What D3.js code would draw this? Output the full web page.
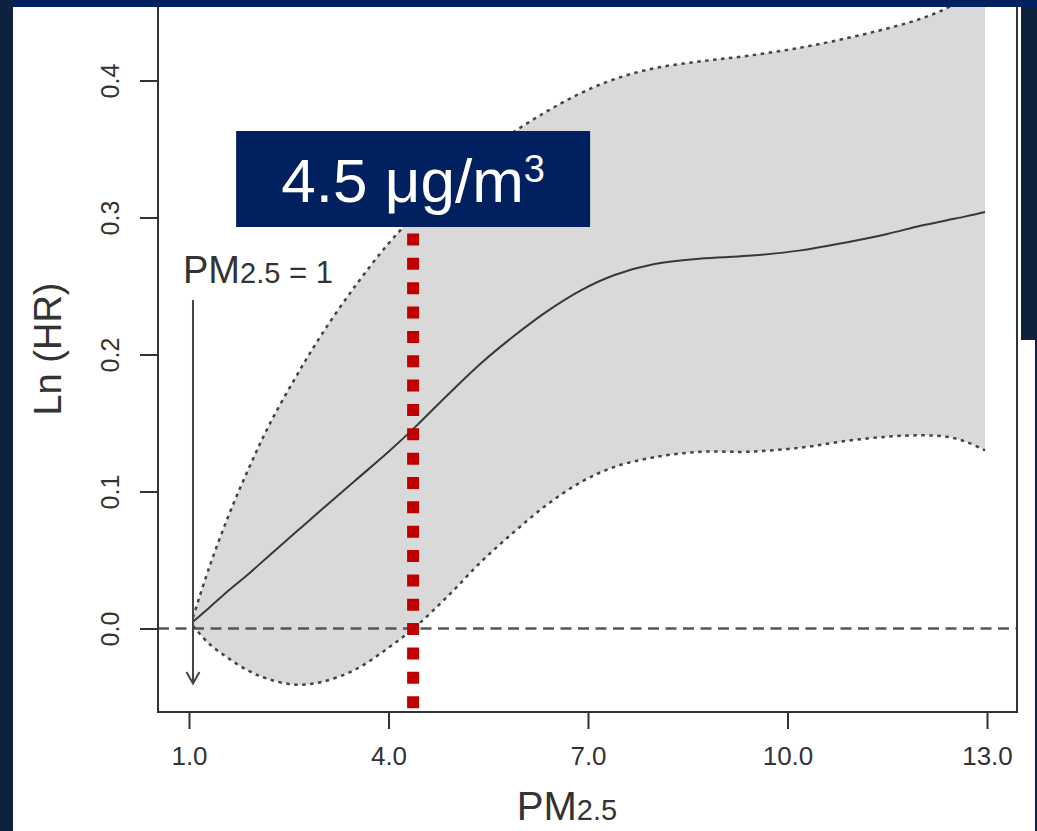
<!DOCTYPE html>
<html>
<head>
<meta charset="utf-8">
<script src="https://cdn.jsdelivr.net/npm/d3@7"></script>
<style>
  html, body { margin: 0; padding: 0; background: #0e213e; }
  svg { display: block; font-family: "Liberation Sans", Arial, sans-serif; }
</style>
</head>
<body>
<svg id="chart" width="1037" height="831"></svg>
<script>
// ---- data ----
const pm    = [1.06, 1.3, 1.6, 1.9, 2.2, 2.6, 3.0, 3.5, 4.0, 4.4, 4.9, 5.4, 5.9, 6.4, 6.9, 7.4, 8.0, 8.7, 9.4, 10.2, 10.9, 11.5, 12.0, 12.4, 12.7, 12.97];
const fit   = [0.005, 0.015, 0.028, 0.040, 0.053, 0.070, 0.087, 0.108, 0.129, 0.147, 0.171, 0.194, 0.214, 0.232, 0.247, 0.258, 0.266, 0.270, 0.272, 0.276, 0.282, 0.288, 0.294, 0.298, 0.301, 0.304];
const upper = [0.008, 0.044, 0.083, 0.117, 0.148, 0.183, 0.215, 0.250, 0.281, 0.302, 0.326, 0.346, 0.363, 0.378, 0.391, 0.401, 0.409, 0.414, 0.418, 0.424, 0.431, 0.438, 0.445, 0.453, 0.462, 0.472];
const lower = [0.002, -0.011, -0.022, -0.031, -0.037, -0.041, -0.039, -0.030, -0.014, 0.001, 0.024, 0.049, 0.071, 0.091, 0.107, 0.118, 0.125, 0.129, 0.129, 0.132, 0.137, 0.140, 0.141, 0.140, 0.136, 0.130];
const xTicks = [1, 4, 7, 10, 13];
const xTickLabels = ["1.0", "4.0", "7.0", "10.0", "13.0"];
const yTicks = [0, 0.1, 0.2, 0.3, 0.4];
const yTickLabels = ["0.0", "0.1", "0.2", "0.3", "0.4"];
const refPM = 1.06;          // PM2.5 = 1 reference arrow
const thresholdPM = 4.37;    // red dotted marker
const thresholdText = "4.5 μg/m";
const thresholdSup = "3";

// ---- layout ----
const svg = d3.select("#chart");
const box = { left: 158, right: 1017, bottom: 712, top: -40 };
const x = d3.scaleLinear().domain([1, 13]).range([189, 987]);
const y = d3.scaleLinear().domain([0, 0.4]).range([628.5, 80.5]);
const textCol = "#333";
const curve = d3.curveCatmullRom.alpha(0.5);

// background frame
svg.append("rect").attr("x", 0).attr("y", 0).attr("width", 1037).attr("height", 831).attr("fill", "#0e213e");
svg.append("path").attr("d", "M13,7 L1021,7 L1021,340 L1035,340 L1035,831 L13,831 Z").attr("fill", "#ffffff");

// clip
svg.append("defs").append("clipPath").attr("id", "plotclip")
  .append("rect").attr("x", box.left).attr("y", box.top)
  .attr("width", box.right - box.left).attr("height", box.bottom - box.top);

const data = pm.map((p, i) => ({ p, f: fit[i], lo: lower[i], hi: upper[i] }));
const plot = svg.append("g").attr("clip-path", "url(#plotclip)");

// confidence band
plot.append("path").datum(data)
  .attr("d", d3.area().x(d => x(d.p)).y0(d => y(d.lo)).y1(d => y(d.hi)).curve(curve))
  .attr("fill", "#d9d9d9");

// zero reference line
plot.append("line").attr("x1", box.left).attr("x2", box.right).attr("y1", y(0)).attr("y2", y(0))
  .attr("stroke", "#555").attr("stroke-width", 2.5).attr("stroke-dasharray", "11 6.5");

// band borders
["hi", "lo"].forEach(k => {
  plot.append("path").datum(data)
    .attr("d", d3.line().x(d => x(d.p)).y(d => y(d[k])).curve(curve))
    .attr("fill", "none").attr("stroke", "#444").attr("stroke-width", 2.5)
    .attr("stroke-dasharray", "3.5 4.5");
});

// fitted line
plot.append("path").datum(data)
  .attr("d", d3.line().x(d => x(d.p)).y(d => y(d.f)).curve(curve))
  .attr("fill", "none").attr("stroke", "#383838").attr("stroke-width", 2);

// box
svg.append("path")
  .attr("d", `M${box.left},${box.top} L${box.left},${box.bottom} L${box.right},${box.bottom} L${box.right},${box.top}`)
  .attr("fill", "none").attr("stroke", "#333").attr("stroke-width", 2);

// y axis
const gy = svg.append("g").attr("transform", `translate(${box.left},0)`)
  .call(d3.axisLeft(y).tickValues(yTicks).tickSize(18).tickFormat((d, i) => yTickLabels[i]));
gy.select(".domain").remove();
gy.selectAll(".tick line").attr("stroke", "#333").attr("stroke-width", 2);
gy.selectAll(".tick text")
  .attr("x", null).attr("dy", null)
  .attr("transform", "translate(-39,0) rotate(-90)")
  .attr("text-anchor", "middle")
  .attr("fill", textCol).style("font-size", "25px")
  .style("font-family", "'Liberation Sans', Arial, sans-serif");

// x axis
const gx = svg.append("g").attr("transform", `translate(0,${box.bottom})`)
  .call(d3.axisBottom(x).tickValues(xTicks).tickSize(17).tickFormat((d, i) => xTickLabels[i]));
gx.select(".domain").remove();
gx.selectAll(".tick line").attr("stroke", "#333").attr("stroke-width", 2);
gx.selectAll(".tick text")
  .attr("y", 53).attr("dy", null)
  .attr("fill", textCol).style("font-size", "26px")
  .style("font-family", "'Liberation Sans', Arial, sans-serif");

// axis titles
svg.append("text").attr("transform", "translate(61,349) rotate(-90)")
  .attr("text-anchor", "middle").attr("fill", textCol).style("font-size", "38px").text("Ln (HR)");
const xt = svg.append("text").attr("x", 567).attr("y", 820).attr("text-anchor", "middle").attr("fill", textCol);
xt.append("tspan").style("font-size", "40px").text("PM");
xt.append("tspan").style("font-size", "29px").text("2.5");

// reference arrow + annotation
const ax = x(refPM);
svg.append("line").attr("x1", ax).attr("x2", ax).attr("y1", 300).attr("y2", 683)
  .attr("stroke", "#444").attr("stroke-width", 2);
svg.append("path").attr("d", `M${ax - 6.5},672 L${ax},683.5 L${ax + 6.5},672`)
  .attr("fill", "none").attr("stroke", "#444").attr("stroke-width", 2);
const ann = svg.append("text").attr("x", 183).attr("y", 283).attr("fill", textCol);
ann.append("tspan").style("font-size", "38px").text("PM");
ann.append("tspan").style("font-size", "29px").text("2.5");
ann.append("tspan").style("font-size", "31px").text(" = 1");

// threshold marker
const tx = x(thresholdPM);
svg.append("line").attr("x1", tx).attr("x2", tx).attr("y1", 233.5).attr("y2", 709)
  .attr("stroke", "#c00000").attr("stroke-width", 12).attr("stroke-dasharray", "12 12.35");

svg.append("rect").attr("x", tx - 177).attr("y", 131).attr("width", 354).attr("height", 96).attr("fill", "#002060");
const lbl = svg.append("text").attr("x", tx).attr("y", 202).attr("text-anchor", "middle").attr("fill", "#fff");
lbl.append("tspan").style("font-size", "62px").text(thresholdText);
lbl.append("tspan").style("font-size", "38px").attr("dy", -20).text(thresholdSup);

// top band
svg.append("rect").attr("x", 13).attr("y", 0).attr("width", 1024).attr("height", 7).attr("fill", "#002060");
</script>
</body>
</html>
